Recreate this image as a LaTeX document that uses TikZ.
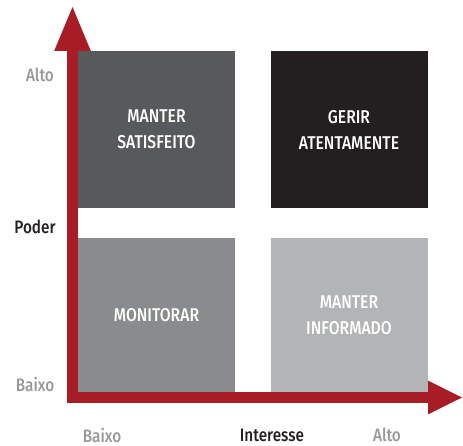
\documentclass[tikz,border=0pt]{standalone}
\usepackage{fontspec}
\setmainfont{Fira Sans}[FakeStretch=0.85]
\newfontfamily\midfont{Fira Sans Medium}[FakeStretch=0.85]
\usetikzlibrary{arrows.meta}
\definecolor{axisred}{HTML}{A81D25}
\definecolor{cellA}{HTML}{58595B}
\definecolor{cellB}{HTML}{231F20}
\definecolor{cellC}{HTML}{8A8B8D}
\definecolor{cellD}{HTML}{B3B4B6}
\definecolor{lowgray}{HTML}{98999B}
\begin{document}
\begin{tikzpicture}[x=1pt,y=-1pt,
  cell/.style={minimum width=157pt, inner sep=0pt, align=center, text=white,
    font=\fontsize{18.5}{26}\selectfont\midfont},
  level/.style={text=lowgray, font=\fontsize{18}{20}\selectfont\midfont},
  axisname/.style={text=cellB, font=\fontsize{18}{20}\selectfont\midfont}]
\useasboundingbox (0,0) rectangle (463,446);
% quadrants
\node[cell, fill=cellA, minimum height=157pt] (keep) at (156.5,129.5) {MANTER\\SATISFEITO};
\node[cell, fill=cellB, minimum height=157pt] (manage) at (349,129.5) {GERIR\\ATENTAMENTE};
\node[cell, fill=cellC, minimum height=154pt] (monitor) at (156.5,315) {MONITORAR};
\node[cell, fill=cellD, minimum height=154pt] (inform) at (349,315) {MANTER\\INFORMADO};
% axes
\coordinate (ytip) at (72.5,5);
\coordinate (origin) at (72.5,397.5);
\coordinate (xtip) at (463,397.5);
\draw[axisred, line width=11pt, line join=miter,
  {Triangle[length=46pt,width=33pt]}-{Triangle[length=35pt,width=31pt]}]
  (ytip) -- (origin) -- (xtip);
% labels
\node[level] (yhigh) at (40,75) {Alto};
\node[axisname] (ylabel) at (35,227) {Poder};
\node[level] (ylow) at (35,384) {Baixo};
\node[level] (xlow) at (102,435) {Baixo};
\node[axisname] (xlabel) at (272,435) {Interesse};
\node[level] (xhigh) at (387,435) {Alto};
\end{tikzpicture}
\end{document}
